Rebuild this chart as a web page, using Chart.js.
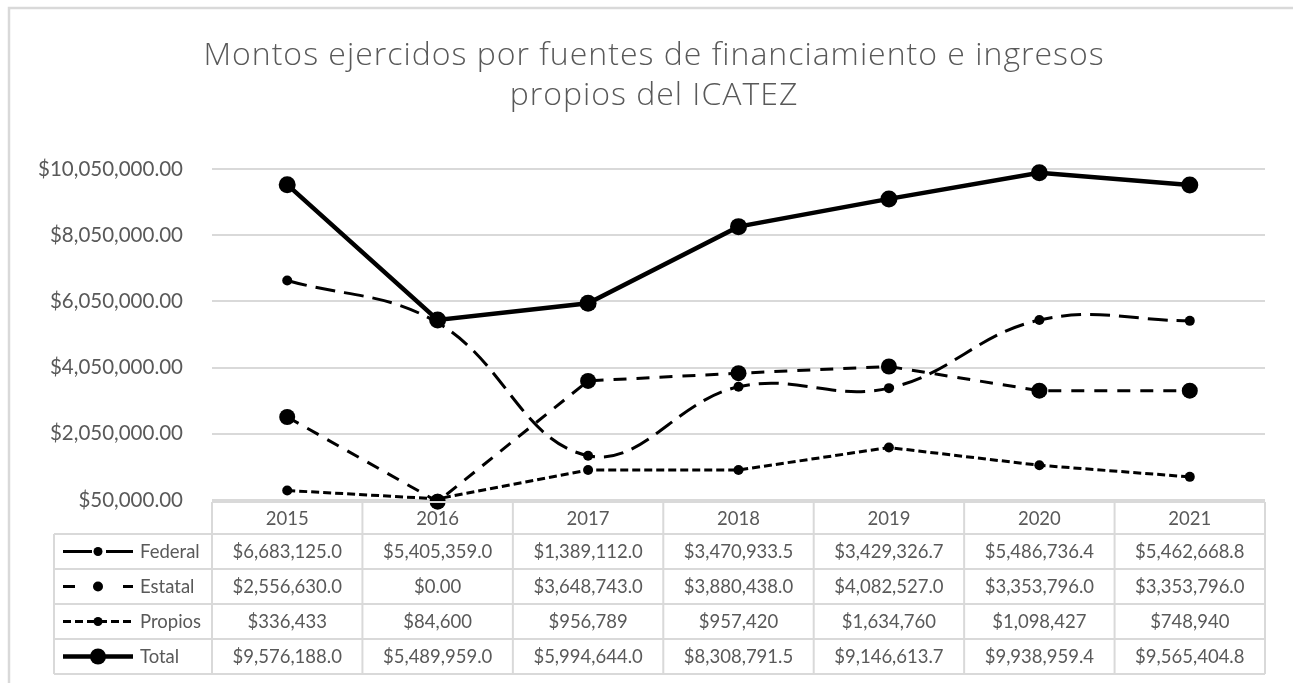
<!DOCTYPE html>
<html>
<head>
<meta charset="utf-8">
<script src="https://cdn.jsdelivr.net/npm/chart.js@4/dist/chart.umd.min.js"></script>
<style>
  html, body { margin: 0; padding: 0; background: #fff; }
  #wrap { width: 1293px; height: 683px; }
</style>
</head>
<body>
<div id="wrap"><canvas id="myChart" width="1293" height="683"></canvas></div>
<script>
// Chart data
const years = ['2015', '2016', '2017', '2018', '2019', '2020', '2021'];
const federal = [6683125.0, 5405359.0, 1389112.0, 3470933.5, 3429326.7, 5486736.4, 5462668.8];
const estatal = [2556630.0, 0, 3648743.0, 3880438.0, 4082527.0, 3353796.0, 3353796.0];
const propios = [336433, 84600, 956789, 957420, 1634760, 1098427, 748940];
const total = [9576188.0, 5489959.0, 5994644.0, 8308791.5, 9146613.7, 9938959.4, 9565404.8];
const yTicks = [50000, 2050000, 4050000, 6050000, 8050000, 10050000];
const titleLines = ['Montos ejercidos por fuentes de financiamiento e ingresos', 'propios del ICATEZ'];

const FONT = 'Lato, "Open Sans", sans-serif';
const TITLE_FONT = '"Open Sans", Lato, sans-serif';
const GREY_TEXT = '#595959';
const GRID = '#d9d9d9';

// decimals shown in the data table for each series
const tableDecimals = [1, 1, 0, 1];

function money(v, decimals) {
    if (v === 0) return '$0.00';
    return '$' + v.toLocaleString('en-US', { minimumFractionDigits: decimals, maximumFractionDigits: decimals });
}

const series = [
    { label: 'Federal', data: federal, dash: [20, 9], keyDash: [29, 14], width: 3, radius: 5, keyRadius: 4.5, tension: 0.4 },
    { label: 'Estatal', data: estatal, dash: [13, 10], keyDash: [12, 48], width: 3, radius: 8, keyRadius: 5, tension: 0 },
    { label: 'Propios', data: propios, dash: [8, 4], keyDash: [8, 4], width: 3, radius: 5, keyRadius: 4.5, tension: 0 },
    { label: 'Total', data: total, dash: [], keyDash: [], width: 4.5, radius: 8.5, keyRadius: 8, tension: 0 }
];

// Plugin that draws the frame, the title and the Excel style data table
const dataTablePlugin = {
    id: 'dataTable',
    beforeDraw(chart) {
        const ctx = chart.ctx;
        ctx.save();
        ctx.fillStyle = '#fff';
        ctx.fillRect(0, 0, chart.width, chart.height);
        ctx.strokeStyle = GRID;
        ctx.lineWidth = 2.5;
        ctx.strokeRect(9, 8, chart.width + 20, chart.height + 20);

        // title (drawn by hand so it can be centred on the whole frame)
        ctx.fillStyle = GREY_TEXT;
        ctx.font = '300 32px ' + TITLE_FONT;
        ctx.letterSpacing = '1px';
        ctx.textAlign = 'center';
        ctx.textBaseline = 'middle';
        titleLines.forEach((line, i) => {
            ctx.fillText(line, 654, 56 + i * 40);
        });
        ctx.restore();
    },
    afterDraw(chart) {
        const ctx = chart.ctx;
        const area = chart.chartArea;
        const xScale = chart.scales.x;
        const colW = (area.right - area.left) / years.length;
        const headTop = area.bottom + 2;
        const headBottom = headTop + 32;
        const rowH = 35;
        const legendLeft = 54;

        ctx.save();
        ctx.strokeStyle = GRID;
        ctx.lineWidth = 2;

        // horizontal lines
        ctx.beginPath();
        ctx.moveTo(area.left, headTop);
        ctx.lineTo(area.right, headTop);
        for (let r = 0; r <= series.length; r++) {
            const y = headBottom + r * rowH;
            ctx.moveTo(legendLeft, y);
            ctx.lineTo(area.right, y);
        }
        // vertical lines
        const tableBottom = headBottom + series.length * rowH;
        ctx.moveTo(legendLeft, headBottom);
        ctx.lineTo(legendLeft, tableBottom);
        for (let i = 0; i <= years.length; i++) {
            const x = area.left + i * colW;
            ctx.moveTo(x, headTop);
            ctx.lineTo(x, tableBottom);
        }
        ctx.stroke();

        // text
        ctx.fillStyle = GREY_TEXT;
        ctx.font = '18.5px ' + FONT;
        ctx.textAlign = 'center';
        ctx.textBaseline = 'middle';
        years.forEach((yr, i) => {
            ctx.fillText(yr, xScale.getPixelForValue(i), (headTop + headBottom) / 2 + 1);
        });
        series.forEach((s, r) => {
            const cy = headBottom + r * rowH + rowH / 2 + 1;
            s.data.forEach((v, i) => {
                ctx.fillText(money(v, tableDecimals[r]), xScale.getPixelForValue(i), cy);
            });
        });

        // legend keys
        series.forEach((s, r) => {
            const cy = headBottom + r * rowH + rowH / 2;
            ctx.save();
            ctx.strokeStyle = '#000';
            ctx.lineWidth = s.width;
            ctx.setLineDash(s.keyDash);
            ctx.beginPath();
            ctx.moveTo(63, cy);
            ctx.lineTo(133, cy);
            ctx.stroke();
            ctx.setLineDash([]);
            ctx.fillStyle = '#000';
            ctx.beginPath();
            ctx.arc(98, cy, s.keyRadius, 0, Math.PI * 2);
            ctx.fill();
            ctx.restore();
            ctx.fillStyle = GREY_TEXT;
            ctx.textAlign = 'left';
            ctx.fillText(s.label, 140, cy + 1);
        });
        ctx.restore();
    }
};

const ctx = document.getElementById('myChart').getContext('2d');
new Chart(ctx, {
    type: 'line',
    data: {
        labels: years,
        datasets: series.map(s => ({
            label: s.label,
            data: s.data,
            borderColor: '#000',
            backgroundColor: '#000',
            borderWidth: s.width,
            borderDash: s.dash,
            pointRadius: s.radius,
            pointBorderWidth: 0,
            pointBackgroundColor: '#000',
            tension: s.tension,
            clip: false,
            fill: false
        }))
    },
    options: {
        responsive: false,
        animation: false,
        layout: {
            padding: { left: 0, right: 28, top: 169, bottom: 183 }
        },
        scales: {
            x: {
                display: false,
                offset: true
            },
            y: {
                min: 50000,
                max: 10050000,
                afterBuildTicks: scale => {
                    scale.ticks = yTicks.map(v => ({ value: v }));
                },
                afterFit: scale => {
                    scale.width = 212;
                },
                grid: {
                    color: GRID,
                    lineWidth: 2,
                    drawTicks: false
                },
                border: { display: false },
                ticks: {
                    padding: 29,
                    color: GREY_TEXT,
                    font: { family: FONT, size: 20.5 },
                    callback: v => money(v, 2)
                }
            }
        },
        plugins: {
            legend: { display: false },
            tooltip: { enabled: false },
            title: { display: false }
        }
    },
    plugins: [dataTablePlugin]
});
</script>
</body>
</html>
